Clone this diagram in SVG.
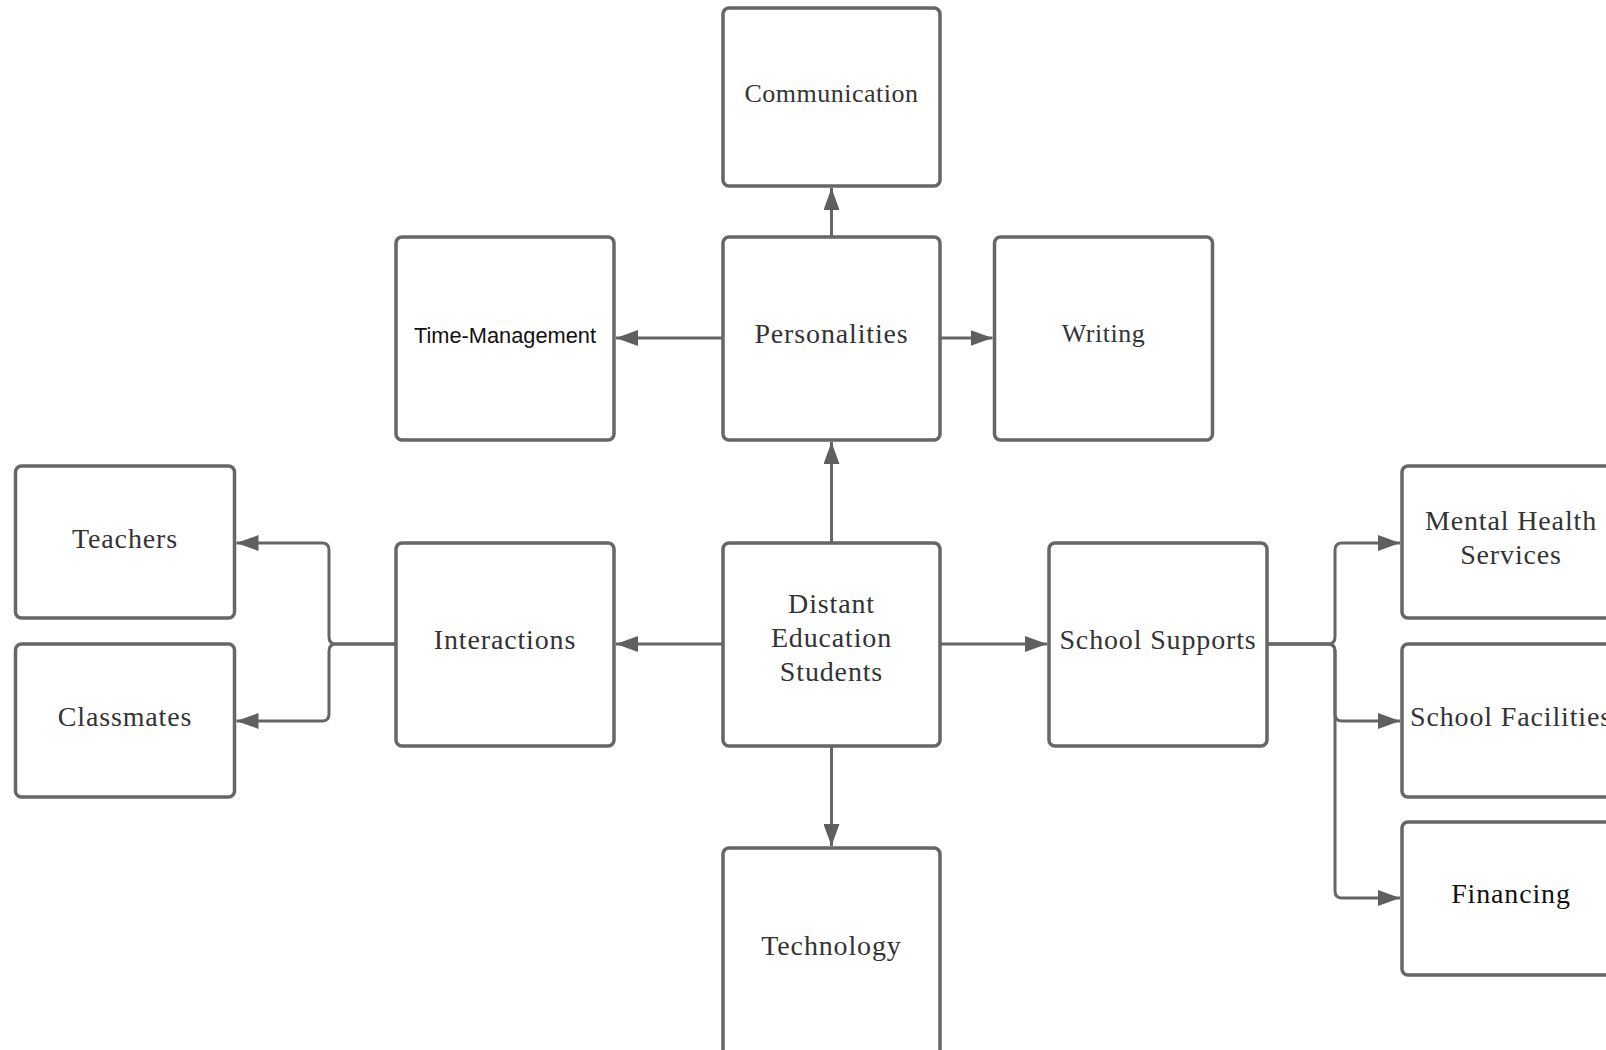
<svg xmlns="http://www.w3.org/2000/svg" width="1606" height="1050" viewBox="0 0 1606 1050">
<style>
.box{fill:#fff;stroke:#666;stroke-width:3.5}
.t{font-family:"Liberation Serif",serif;font-size:28px;fill:#333;letter-spacing:0.85px;text-anchor:middle}
.s{font-size:26px;letter-spacing:0.5px}
.k{fill:#111}
.sans{font-family:"Liberation Sans",Arial,sans-serif;font-size:21.8px;fill:#111;text-anchor:middle}
.c{fill:none;stroke:#666;stroke-width:3;marker-end:url(#ah)}
</style>
<defs>
<marker id="ah" markerUnits="userSpaceOnUse" markerWidth="22" markerHeight="16" refX="22" refY="8" orient="auto">
<path d="M0,0 L22,8 L0,16 z" fill="#5f5f5f"/>
</marker>
</defs>
<rect width="1606" height="1050" fill="#fff"/>
<g id="connectors">
<path class="c" d="M831.5,237 V188"/>
<path class="c" d="M831.5,543 V442"/>
<path class="c" d="M723,338 H616"/>
<path class="c" d="M940,338 H992.5"/>
<path class="c" d="M723,644 H616"/>
<path class="c" d="M940,644 H1047"/>
<path class="c" d="M831.5,746 V846"/>
<path class="c" d="M396,644 H336 Q329,644 329,637 V550 Q329,543 322,543 H236.5"/>
<path class="c" d="M396,644 H336 Q329,644 329,651 V714 Q329,721 322,721 H236.5"/>
<path class="c" d="M1267,644 H1328 Q1335,644 1335,637 V550 Q1335,543 1342,543 H1400"/>
<path class="c" d="M1267,644 H1328 Q1335,644 1335,651 V714 Q1335,721 1342,721 H1400"/>
<path class="c" d="M1267,644 H1328 Q1335,644 1335,651 V891 Q1335,898 1342,898 H1400"/>
</g>
<g id="communication"><rect class="box" x="723" y="8" width="217" height="178" rx="6"/><text class="t s" x="831.5" y="102">Communication</text></g>
<g id="time-management"><rect class="box" x="396" y="237" width="218" height="203" rx="6"/><text class="sans" x="505" y="343">Time-Management</text></g>
<g id="personalities"><rect class="box" x="723" y="237" width="217" height="203" rx="6"/><text class="t" x="831.5" y="343">Personalities</text></g>
<g id="writing"><rect class="box" x="994.5" y="237" width="218" height="203" rx="6"/><text class="t s" x="1103.5" y="342">Writing</text></g>
<g id="teachers"><rect class="box" x="15.5" y="466" width="219" height="152" rx="6"/><text class="t" x="125" y="548">Teachers</text></g>
<g id="classmates"><rect class="box" x="15.5" y="644" width="219" height="153" rx="6"/><text class="t" x="125" y="726">Classmates</text></g>
<g id="interactions"><rect class="box" x="396" y="543" width="218" height="203" rx="6"/><text class="t" x="505" y="649">Interactions</text></g>
<g id="distant-education-students"><rect class="box" x="723" y="543" width="217" height="203" rx="6"/><text class="t" x="831.5" y="613">Distant</text><text class="t" x="831.5" y="647">Education</text><text class="t" x="831.5" y="681">Students</text></g>
<g id="school-supports"><rect class="box" x="1049" y="543" width="218" height="203" rx="6"/><text class="t" x="1158" y="649">School Supports</text></g>
<g id="technology"><rect class="box" x="723" y="848" width="217" height="210" rx="6"/><text class="t" x="831.5" y="955">Technology</text></g>
<g id="mental-health-services"><rect class="box" x="1402" y="466" width="220" height="152" rx="6"/><text class="t" x="1511" y="530">Mental Health</text><text class="t" x="1511" y="564">Services</text></g>
<g id="school-facilities"><rect class="box" x="1402" y="644" width="220" height="153" rx="6"/><text class="t" x="1511" y="726">School Facilities</text></g>
<g id="financing"><rect class="box" x="1402" y="822" width="220" height="153" rx="6"/><text class="t k" x="1511" y="903">Financing</text></g>
</svg>
